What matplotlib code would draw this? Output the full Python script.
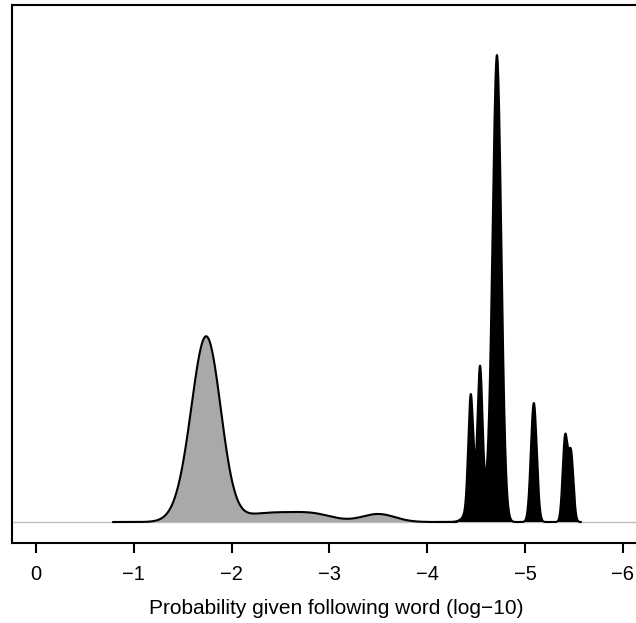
import numpy as np
import matplotlib
matplotlib.use("Agg")
import matplotlib.pyplot as plt

plt.rcParams['font.family'] = ['Liberation Sans', 'DejaVu Sans']

# Gray density (log10 probability), modelled as kernel components
gray_centers = [-1.75, -1.59, -2.40, -2.85, -3.50]
gray_heights = [1.72, 0.22, 0.09, 0.06, 0.08]
gray_sigmas = [0.145, 0.15, 0.30, 0.20, 0.17]
gray_range = (-0.79, -4.30)

# Black density components
black_centers = [-4.445, -4.54, -4.714, -5.09, -5.41, -5.47, -4.48, -4.64]
black_heights = [1.10, 1.36, 4.55, 1.19, 0.84, 0.68, 0.20, 0.25]
black_sigmas = [0.025, 0.025, 0.044, 0.030, 0.025, 0.025, 0.07, 0.06]
black_range = (-4.10, -5.57)

tick_values = [0, -1, -2, -3, -4, -5, -6]
tick_labels = ["0", "\u22121", "\u22122", "\u22123", "\u22124", "\u22125", "\u22126"]
xlabel = "Probability given following word (log\u221210)"


def mixture(x, centers, heights, sigmas):
    y = np.zeros_like(x)
    for c, h, s in zip(centers, heights, sigmas):
        y += h * np.exp(-0.5 * ((x - c) / s) ** 2)
    return y


fig = plt.figure(figsize=(6.36, 6.23), dpi=100)
ax = fig.add_axes([12 / 636, 80 / 623, 648 / 636, 538 / 623])

ax.axhline(0, color="#bebebe", lw=1.0, zorder=1)

xg = np.linspace(gray_range[0], gray_range[1], 800)
yg = mixture(xg, gray_centers, gray_heights, gray_sigmas)
ax.fill_between(xg, 0, yg, facecolor="#a9a9a9", edgecolor="none", zorder=2)
ax.plot(xg, yg, color="black", lw=1.5, zorder=3)

xb = np.linspace(black_range[0], black_range[1], 1500)
yb = mixture(xb, black_centers, black_heights, black_sigmas)
ax.fill_between(xb, 0, yb, facecolor="black", edgecolor="none", zorder=4)
ax.plot(xb, yb, color="black", lw=1.5, zorder=5)

ax.set_xlim(0.245, -6.38)
ax.set_ylim(-0.21, 5.17)
ax.set_yticks([])
ax.set_xticks(tick_values)
ax.set_xticklabels(tick_labels, fontsize=14.5)
ax.tick_params(axis="x", direction="out", length=7, width=1.5, pad=9)
for sp in ax.spines.values():
    sp.set_linewidth(1.5)
ax.set_xlabel(xlabel, fontsize=15, labelpad=11)

fig.savefig("out.png", dpi=100)
